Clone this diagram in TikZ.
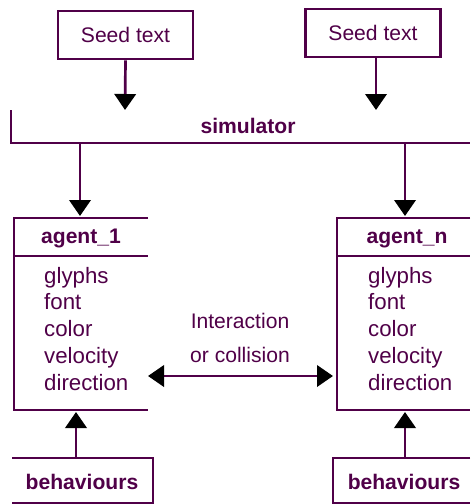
\documentclass[tikz,border=0pt]{standalone}
\usepackage{fontspec}
\setmainfont{Liberation Sans}
\usetikzlibrary{arrows.meta}
\definecolor{plum}{RGB}{80,0,72}
\tikzset{
  edge/.style={draw=plum,line width=2.3pt},
  tip/.style={-{Triangle[width=0.64cm,length=0.48cm,color=black]}},
  seedbox/.style={draw=plum,line width=2.3pt,text=plum,font=\fontsize{18}{20}\selectfont,minimum width=4.05cm,minimum height=1.44cm,inner sep=0pt},
  title/.style={text=plum,font=\bfseries\fontsize{18}{20}\selectfont,anchor=base,inner sep=0pt},
  attr/.style={text=plum,font=\fontsize{19}{21}\selectfont,anchor=base west,inner sep=0pt}
}
\begin{document}
\begin{tikzpicture}[x=0.03cm,y=-0.03cm]
\useasboundingbox (0,0) rectangle (470,504);
% seeds
\node[seedbox] (seedL) at (125.5,35) {Seed text};
\node[seedbox] (seedR) at (373,33) {Seed text};
\coordinate (inL) at (125,110);
\coordinate (inR) at (376,110);
\draw[edge,tip] (seedL.south) -- (inL);
\draw[edge,tip] (seedR.south -| inR) -- (inR);
% simulator
\node[title] (sim) at (248,133) {simulator};
\draw[edge] (11,110) -- (11,143) -- (470,143);
\coordinate (simA) at (80,144);
\coordinate (simN) at (405,144);
% agents
\node[title] (agA) at (81,243) {agent\_1};
\node[title] (agN) at (407,243) {agent\_n};
\draw[edge] (148,218) -- (14,218) -- (14,410) -- (148,410);
\draw[edge] (14,256) -- (148,256);
\draw[edge] (470,218) -- (337,218) -- (337,410) -- (470,410);
\draw[edge] (337,256) -- (470,256);
\foreach \t [count=\i] in {glyphs,font,color,velocity,direction}{
  \node[attr] (agA\i) at (44,283+26.8*\i-26.8) {\t};
  \node[attr] (agN\i) at (368,283+26.8*\i-26.8) {\t};
}
\coordinate (topA) at (80,216);
\coordinate (topN) at (405,216);
\draw[edge,tip] (simA) -- (topA);
\draw[edge,tip] (simN) -- (topN);
% interaction
\node[text=plum,font=\fontsize{18}{29}\selectfont,align=center,anchor=base,inner sep=0pt] (inter) at (240,362) {Interaction\\or collision};
\coordinate (sideA) at (148,376);
\coordinate (sideN) at (333,376);
\draw[edge,{Triangle[width=0.64cm,length=0.48cm,color=black]}-{Triangle[width=0.64cm,length=0.48cm,color=black]}] (sideA) -- (sideN);
% behaviours
\node[title] (behA) at (82,489) {behaviours};
\node[title] (behN) at (404,489) {behaviours};
\draw[edge] (12,458) -- (153,458) -- (153,503) -- (12,503);
\draw[edge] (470,458) -- (333,458) -- (333,503) -- (470,503);
\coordinate (botA) at (76,412);
\coordinate (botN) at (405,412);
\draw[edge,tip] (76,458) -- (botA);
\draw[edge,tip] (405,458) -- (botN);
\end{tikzpicture}
\end{document}
